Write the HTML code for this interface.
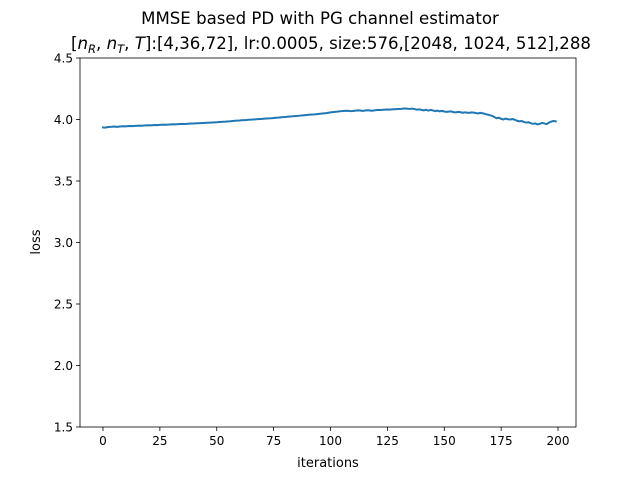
<!DOCTYPE html>
<html><head><meta charset="utf-8"><style>
body{margin:0;background:#fff;width:640px;height:480px;overflow:hidden}
svg{font-family:"DejaVu Sans","Liberation Sans",sans-serif}
</style></head><body>
<svg id="chart" width="640" height="480">
<text x="320" y="24" font-size="16.6" text-anchor="middle">MMSE based PD with PG channel estimator</text>
<text x="331" y="49" font-size="16.6" text-anchor="middle">[<tspan font-style="italic">n</tspan><tspan font-style="italic" font-size="11.5" dy="4">R</tspan><tspan dy="-4">, </tspan><tspan font-style="italic">n</tspan><tspan font-style="italic" font-size="11.5" dy="4">T</tspan><tspan dy="-4">, </tspan><tspan font-style="italic">T</tspan>]:[4,36,72], lr:0.0005, size:576,[2048, 1024, 512],288</text>
<g id="axes"></g>
<text x="328" y="467" font-size="13" text-anchor="middle">iterations</text>
<text x="40" y="242" font-size="13" text-anchor="middle" transform="rotate(-90 40 242)">loss</text>
</svg>
<script>
const xTicks=[0,25,50,75,100,125,150,175,200];
const yTicks=[1.5,2.0,2.5,3.0,3.5,4.0,4.5];
const lossValues=[
3.935,3.934,3.938,3.940,3.941,3.943,3.940,3.942,3.944,3.945,
3.944,3.946,3.947,3.946,3.948,3.949,3.950,3.949,3.951,3.952,
3.953,3.952,3.954,3.955,3.954,3.956,3.957,3.958,3.957,3.959,
3.960,3.961,3.960,3.962,3.963,3.964,3.963,3.965,3.966,3.967,
3.968,3.969,3.970,3.971,3.972,3.973,3.974,3.975,3.976,3.977,
3.978,3.980,3.981,3.982,3.983,3.985,3.986,3.988,3.990,3.991,
3.992,3.994,3.995,3.996,3.998,3.999,4.000,4.001,4.003,4.004,
4.005,4.007,4.008,4.009,4.010,4.012,4.014,4.015,4.017,4.019,
4.020,4.022,4.024,4.025,4.027,4.028,4.030,4.032,4.034,4.036,
4.038,4.040,4.041,4.042,4.044,4.046,4.048,4.050,4.052,4.055,
4.058,4.060,4.062,4.064,4.067,4.068,4.070,4.071,4.070,4.068,
4.069,4.072,4.074,4.073,4.070,4.072,4.075,4.074,4.071,4.073,
4.076,4.078,4.077,4.079,4.080,4.081,4.080,4.082,4.083,4.084,
4.085,4.086,4.088,4.089,4.087,4.086,4.088,4.085,4.080,4.082,
4.078,4.074,4.080,4.072,4.078,4.074,4.068,4.072,4.066,4.070,
4.065,4.062,4.064,4.066,4.060,4.058,4.062,4.060,4.055,4.058,
4.056,4.054,4.058,4.056,4.052,4.050,4.054,4.050,4.045,4.040,
4.035,4.030,4.020,4.010,4.015,4.005,4.000,4.008,4.002,4.000,
4.004,3.998,3.990,3.985,3.988,3.980,3.975,3.978,3.970,3.965,
3.968,3.960,3.965,3.972,3.968,3.962,3.975,3.982,3.988,3.985];
const L=80,R=576,T=58,B=427;
const xs=v=>103+(v/200)*455;
const ys=v=>T+(4.5-v)/3*(B-T);
const ns="http://www.w3.org/2000/svg";
const g=document.getElementById('axes');
function mk(tag,attrs){const e=document.createElementNS(ns,tag);for(const k in attrs)e.setAttribute(k,attrs[k]);g.appendChild(e);return e;}
xTicks.forEach(t=>{
 const l=mk('line',{x1:xs(t),x2:xs(t),y1:B,y2:B+4,stroke:'#000','stroke-width':0.8});
 
 
 const tx=mk('text',{x:xs(t),y:B+18,'font-size':12,'text-anchor':'middle'});
 tx.textContent=t;
 
 
});
yTicks.forEach(t=>{
 const l=mk('line',{x1:L-4,x2:L,y1:ys(t),y2:ys(t),stroke:'#000','stroke-width':0.8});
 
 
 const tx=mk('text',{x:L-7,y:ys(t)+4.5,'font-size':12,'text-anchor':'end'});
 tx.textContent=t.toFixed(1);
 
 
});
const pts=lossValues.map((v,i)=>xs(i).toFixed(2)+','+ys(v).toFixed(2)).join(' ');
const line=mk('polyline',{points:pts,fill:'none',stroke:'#1f77b4','stroke-width':2,'stroke-linejoin':'round','stroke-linecap':'square'});


const fr=mk('rect',{x:L,y:T,width:R-L,height:B-T,fill:'none',stroke:'#000','stroke-width':0.8});


</script>
</body></html>
